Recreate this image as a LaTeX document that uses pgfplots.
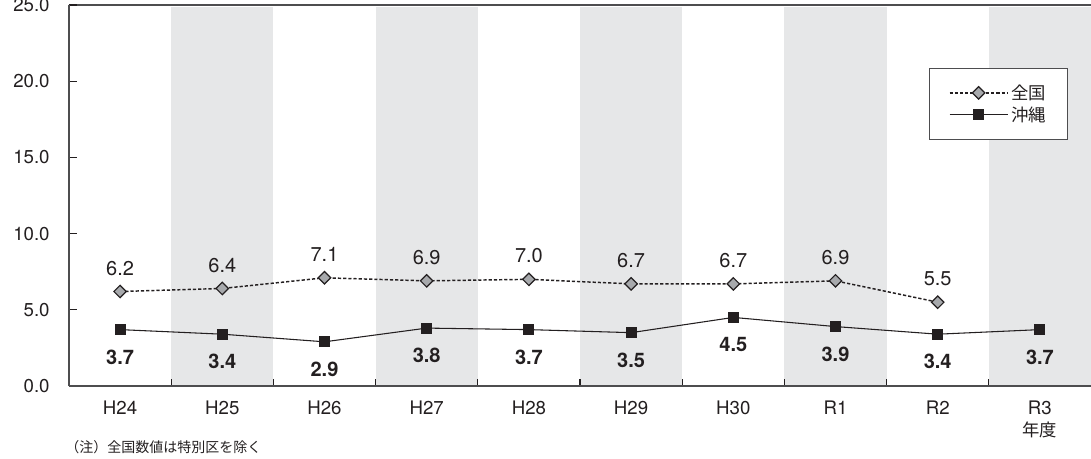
\documentclass[border=0pt]{standalone}
\usepackage{pgfplots}
\pgfplotsset{compat=1.18}
\usepackage{fontspec}
\setmainfont{TeX Gyre Heros}
\newfontfamily\cjk{Noto Sans CJK JP}
\definecolor{ink}{HTML}{231F20}
\definecolor{band}{HTML}{E6E7E8}
\definecolor{diamondfill}{HTML}{A7A9AC}
\definecolor{frame}{HTML}{4D4D4F}

\newcommand{\valfont}{\fontsize{15}{18}\selectfont}

\begin{document}
\begin{tikzpicture}
\path[use as bounding box] (-51.75pt,-54pt) rectangle (766.5pt,289.5pt);
\begin{axis}[
  scale only axis, width=766.5pt, height=285.75pt,
  xmin=-0.5, xmax=9.5, ymin=0, ymax=25,
  axis x line*=bottom, axis y line*=left,
  axis line style={-, frame, line width=1.3pt},
  xtick={0,...,9},
  xticklabels={H24,H25,H26,H27,H28,H29,H30,R1,R2,{R3\\{\cjk\fontsize{13}{17}\selectfont 年度}}},
  minor xtick={0.5,1.5,...,8.5},
  ytick={0,5,...,25},
  yticklabel={\pgfmathprintnumber[fixed,fixed zerofill,precision=1]{\tick}},
  /pgf/number format/assume math mode=true,
  tick align=inside,
  major x tick style={draw=none},
  minor x tick style={ink, line width=1pt},
  minor tick length=5pt,
  major tick length=6pt,
  ytick style={ink, line width=1pt},
  tick label style={font=\fontsize{14}{17}\selectfont, text=ink},
  xticklabel style={align=center, anchor=north, yshift=-7.5pt},
  yticklabel style={xshift=-11pt},
  clip=false,
  axis on top,
  legend style={at={(0.8415,0.8346)}, anchor=north west, draw=frame, line width=0.8pt,
    fill=white, font=\cjk\fontsize{13}{15}\selectfont, text=ink,
    inner xsep=14.5pt, inner ysep=10pt, row sep=0pt, cells={anchor=west}},
  legend image code/.code={\draw[mark repeat=2, mark phase=2] plot coordinates {(0pt,0pt) (21.75pt,0pt) (43.5pt,0pt)};},
]
% alternating year bands
\fill[band] (axis cs:0.5,0) rectangle (axis cs:1.5,24.85);
\fill[band] (axis cs:2.5,0) rectangle (axis cs:3.5,24.85);
\fill[band] (axis cs:4.5,0) rectangle (axis cs:5.5,24.85);
\fill[band] (axis cs:6.5,0) rectangle (axis cs:7.5,24.85);
\fill[band] (axis cs:8.5,0) rectangle (axis cs:9.5,24.85);
\draw[frame, line width=1.5pt] (axis cs:-0.5,25) -- (axis cs:9.5,25);

% national average (special wards excluded)
\addplot[ink, line width=1.1pt, dash pattern=on 2.4pt off 1.5pt,
  mark=square*, mark size=3.3pt,
  mark options={rotate=45, solid, fill=diamondfill, draw=ink, line width=0.9pt},
  nodes near coords={\pgfmathprintnumber[fixed,fixed zerofill,precision=1]{\pgfplotspointmeta}},
  every node near coord/.style={anchor=center, yshift=17.5pt, font=\valfont, text=ink}]
coordinates {(0,6.2) (1,6.4) (2,7.1) (3,6.9) (4,7.0) (5,6.7) (6,6.7) (7,6.9) (8,5.5)};
\addlegendentry{全国}

% Okinawa
\addplot[ink, line width=0.8pt, mark=square*, mark size=3.7pt,
  mark options={solid, fill=ink, draw=ink},
  nodes near coords={\pgfmathprintnumber[fixed,fixed zerofill,precision=1]{\pgfplotspointmeta}},
  every node near coord/.style={anchor=center, yshift=-20.5pt, font=\valfont\bfseries, text=ink}]
coordinates {(0,3.7) (1,3.4) (2,2.9) (3,3.8) (4,3.7) (5,3.5) (6,4.5) (7,3.9) (8,3.4) (9,3.7)};
\addlegendentry{沖縄}
\end{axis}
\node[anchor=west, font=\cjk\fontsize{10.5}{12}\selectfont, text=ink, inner sep=0pt] at (-3pt,-45.75pt) {（注）全国数値は特別区を除く};
\end{tikzpicture}
\end{document}
